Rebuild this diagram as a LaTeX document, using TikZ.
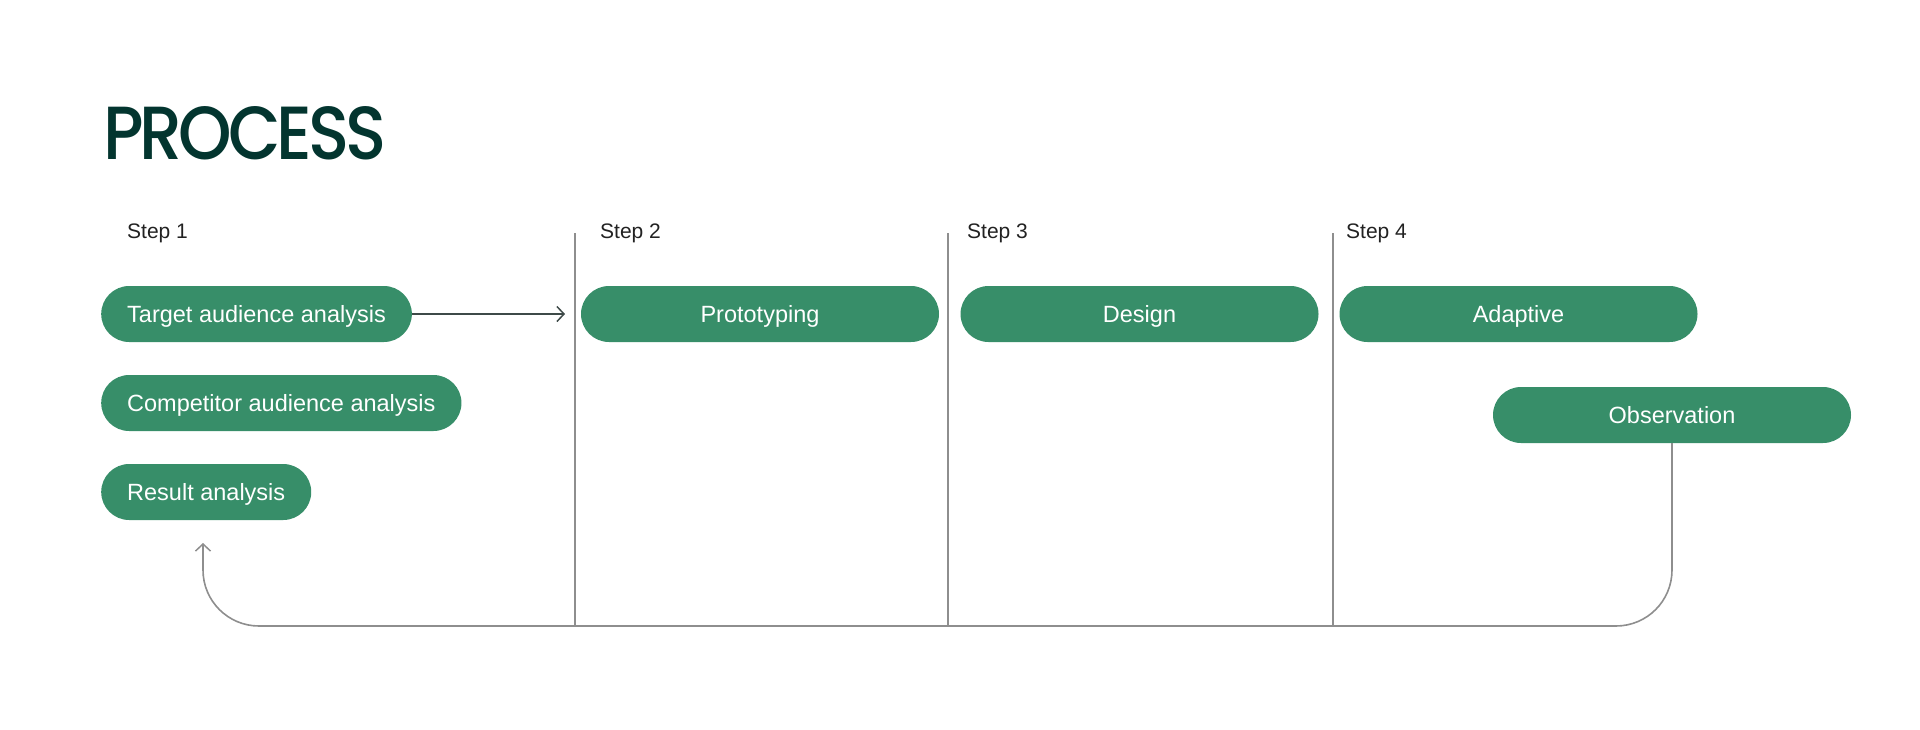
\documentclass[tikz,border=0pt]{standalone}
\usepackage{fontspec}
\setmainfont{Liberation Sans}
\newfontfamily\titlefont{Poppins}[UprightFont={* Medium}, LetterSpace=-6]
\usetikzlibrary{arrows.meta}
\definecolor{pillgreen}{HTML}{378E69}
\definecolor{titlegreen}{HTML}{03352F}
\definecolor{linegray}{HTML}{8E8E8E}
\definecolor{arrowdark}{HTML}{3E4A48}
\definecolor{steptext}{HTML}{222222}
\tikzset{
  pill/.style={fill=pillgreen, text=white, rounded corners=28pt, minimum height=56pt,
    inner xsep=26pt, inner ysep=0pt, text height=17pt, text depth=0pt,
    font=\fontsize{23.5}{28}\selectfont},
  fixedpill/.style={pill, minimum width=358pt},
  steplabel/.style={anchor=base west, inner sep=0pt, text=steptext, font=\fontsize{21}{25}\selectfont},
  divider/.style={draw=linegray, line width=1.6pt},
  loopline/.style={draw=linegray, line width=1.6pt, rounded corners=56pt},
  fwdarrow/.style={draw=arrowdark, line width=1.5pt, -{Straight Barb[length=7pt,width=15pt,line width=1.5pt]}},
  backarrow/.style={loopline, -{Straight Barb[length=7pt,width=15pt,line width=1.5pt]}}
}
\begin{document}
\begin{tikzpicture}[x=1pt,y=-1pt]
\useasboundingbox (0,0) rectangle (1920,729);
\node[anchor=base west, inner sep=0pt, text=titlegreen] (title) at (103,159) {\resizebox{283pt}{53pt}{\titlefont PROCESS}};

\node[steplabel] (s1) at (127,238) {Step 1};
\node[steplabel] (s2) at (600,238) {Step 2};
\node[steplabel] (s3) at (967,238) {Step 3};
\node[steplabel] (s4) at (1346,238) {Step 4};

\coordinate (d1t) at (575,233); \coordinate (d1b) at (575,626);
\coordinate (d2t) at (948,233); \coordinate (d2b) at (948,626);
\coordinate (d3t) at (1333,233); \coordinate (d3b) at (1333,626);
\draw[divider] (d1t) -- (d1b);
\draw[divider] (d2t) -- (d2b);
\draw[divider] (d3t) -- (d3b);

\node[pill, anchor=west] (target) at (101,314) {Target audience analysis};
\node[pill, anchor=west] (comp) at (101,403) {Competitor audience analysis};
\node[pill, anchor=west] (result) at (101,492) {Result analysis};

\node[fixedpill] (proto) at (760,314) {Prototyping};
\node[fixedpill] (design) at (1139.5,314) {Design};
\node[fixedpill] (adapt) at (1518.5,314) {Adaptive};
\node[fixedpill] (obs) at (1672,415) {Observation};

\coordinate (fwdend) at (565,314);
\draw[fwdarrow] (target.east) -- (fwdend);

\coordinate (ret) at (203,543);
\coordinate (bl) at (203,626);
\coordinate (br) at (obs.south |- bl);
\draw[backarrow] (obs.south) -- (br) -- (bl) -- (ret);
\end{tikzpicture}
\end{document}
